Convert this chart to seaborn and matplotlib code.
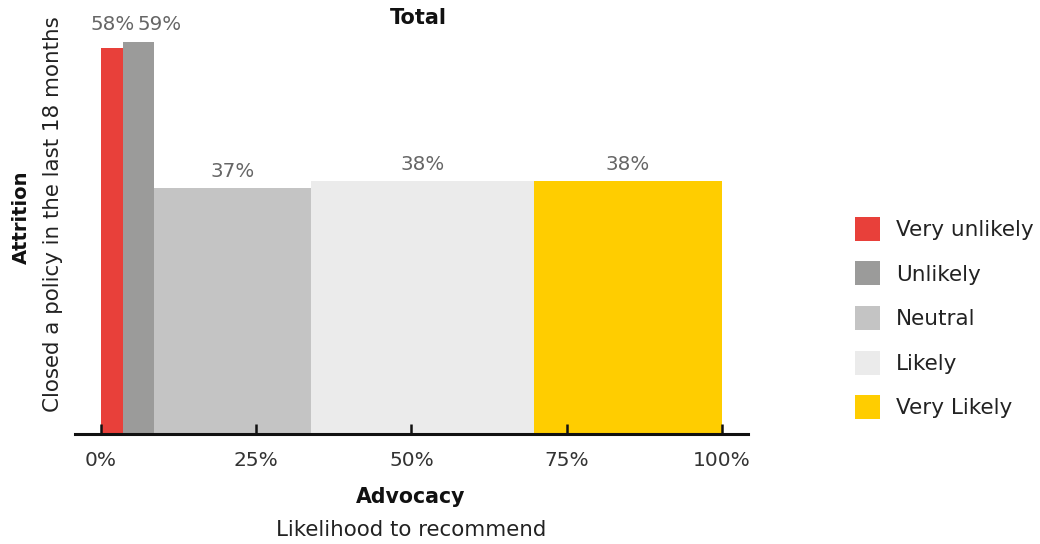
import numpy as np
import pandas as pd
import matplotlib
matplotlib.use("Agg")
import matplotlib.pyplot as plt
import seaborn as sns
from matplotlib.patches import Patch

# ---- data ----
categories = ["Very unlikely", "Unlikely", "Neutral", "Likely", "Very Likely"]
widths = [3.6, 4.9, 25.3, 36.0, 30.2]          # share of respondents (advocacy), %
attrition = [58, 59, 37, 38, 38]                # closed a policy, %
colors = ["#E8403A", "#9B9B9A", "#C4C4C4", "#EBEBEB", "#FFCD00"]
xticks = [0, 25, 50, 75, 100]
xtick_labels = ["0%", "25%", "50%", "75%", "100%"]

edges = [0.0] + list(np.cumsum(widths))
mids = [(a + b) / 2 for a, b in zip(edges[:-1], edges[1:])]
df = pd.DataFrame({"segment": categories, "mid": mids, "attrition": attrition})

sns.set_theme(style="white")
plt.rcParams["font.family"] = ["DejaVu Sans"]

fig = plt.figure(figsize=(10.4, 5.44), dpi=100)
ax = fig.add_axes([0.0721, 0.202, 0.647, 0.779])

sns.histplot(data=df, x="mid", weights="attrition", bins=edges,
             hue="segment", hue_order=categories,
             palette=dict(zip(categories, colors)),
             multiple="layer", alpha=1, linewidth=0, legend=False, ax=ax)
ax.set_axisbelow(False)

top_small = max(attrition[:2])
lbl_kw = dict(va="bottom", color="#666666", fontsize=14.3)
for i, (m, h) in enumerate(zip(mids, attrition)):
    if i == 0:
        ax.text(m, top_small + 1.1, f"{h}%", ha="center", **lbl_kw)
    elif i == 1:
        ax.text(edges[1] + 2.2, top_small + 1.1, f"{h}%", ha="left", **lbl_kw)
    else:
        ax.text(m, h + 1.1, f"{h}%", ha="center", **lbl_kw)

ax.set_xlim(-4.2, 104.2)
ax.set_ylim(0, 63.7)
ax.set_xticks(xticks)
ax.set_xticklabels(xtick_labels, fontsize=14.5, color="#333333")
ax.set_yticks([])
ax.set_xlabel("")
ax.set_ylabel("")
ax.tick_params(axis="x", direction="in", length=7, width=1.8, color="#111111",
               pad=12, bottom=True)
for s in ["left", "right", "top"]:
    ax.spines[s].set_visible(False)
ax.spines["bottom"].set_linewidth(2.2)
ax.spines["bottom"].set_color("#111111")

fig.text(418 / 1040, 1 - 18 / 544, "Total", ha="center", va="center",
         fontsize=15, fontweight="bold", color="#111111")
fig.text(411 / 1040, 1 - 497 / 544, "Advocacy", ha="center", va="center",
         fontsize=14.8, fontweight="bold", color="#111111")
fig.text(411 / 1040, 1 - 530 / 544, "Likelihood to recommend", ha="center",
         va="center", fontsize=15.4, color="#222222")
fig.text(21 / 1040, 1 - 217 / 544, "Attrition", ha="center", va="center",
         rotation=90, fontsize=14, fontweight="bold", color="#111111")
fig.text(53 / 1040, 1 - 214 / 544, "Closed a policy in the last 18 months",
         ha="center", va="center", rotation=90, fontsize=15.4, color="#222222")

handles = [Patch(facecolor=c, edgecolor="none") for c in colors]
fig.legend(handles, categories, loc="center left",
           bbox_to_anchor=(855 / 1040, 1 - 318 / 544), frameon=False,
           fontsize=15.5, handlelength=1.15, handleheight=1.35,
           handletextpad=0.75, labelspacing=0.95, borderpad=0,
           borderaxespad=0, labelcolor="#222222")

fig.savefig("out.png", dpi=100)
